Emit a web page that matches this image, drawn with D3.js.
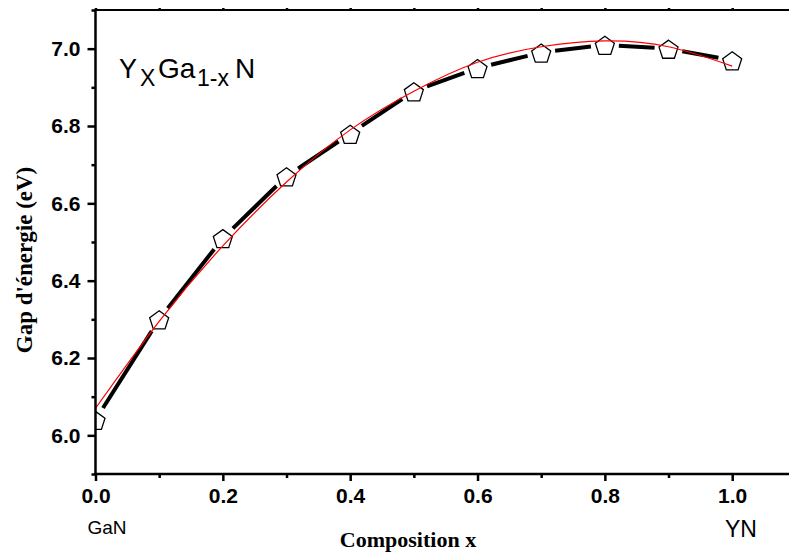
<!DOCTYPE html>
<html>
<head>
<meta charset="utf-8">
<script src="https://cdn.jsdelivr.net/npm/d3@7"></script>
<style>
  body { margin: 0; background: #fff; }
  svg { display: block; }
</style>
</head>
<body>
<div id="chart"></div>
<script>
var width = 789;
var height = 554;

// measured gap values (markers + black line)
var compX = [0.0, 0.1, 0.2, 0.3, 0.4, 0.5, 0.6, 0.7, 0.8, 0.9, 1.0];
var gapY = [6.04, 6.30, 6.51, 6.67, 6.78, 6.89, 6.95, 6.99, 7.01, 7.00, 6.97];

// red fitted curve
var fitX = [0.0, 0.1, 0.2, 0.3, 0.4, 0.5, 0.6, 0.7, 0.8, 0.9, 1.0];
var fitY = [6.07, 6.295, 6.49, 6.655, 6.79, 6.89, 6.965, 7.005, 7.02, 7.005, 6.955];

var xMajor = [0.0, 0.2, 0.4, 0.6, 0.8, 1.0];
var xMinor = [0.1, 0.3, 0.5, 0.7, 0.9];
var yMajor = [6.0, 6.2, 6.4, 6.6, 6.8, 7.0];
var yMinor = [5.9, 6.1, 6.3, 6.5, 6.7, 6.9, 7.1];

var margin = { left: 95.5, top: 10, bottom: 474 };

var x = d3.scaleLinear().domain([0, 1.09]).range([margin.left, margin.left + 1.09 * 636.7]);
var y = d3.scaleLinear().domain([5.9, 7.1]).range([margin.bottom, margin.top]);

var svg = d3.select("#chart").append("svg")
  .attr("width", width)
  .attr("height", height);

svg.append("defs").append("clipPath")
  .attr("id", "plot-clip")
  .append("rect")
  .attr("x", x(0))
  .attr("y", y(7.1))
  .attr("width", x(1.09) - x(0))
  .attr("height", y(5.9) - y(7.1));

var plot = svg.append("g").attr("clip-path", "url(#plot-clip)");

// black line, broken around each symbol
var gap = 14;
var segs = [];
for (let i = 0; i < compX.length - 1; i++) {
  let x1 = x(compX[i]), y1 = y(gapY[i]);
  let x2 = x(compX[i + 1]), y2 = y(gapY[i + 1]);
  let len = Math.hypot(x2 - x1, y2 - y1);
  let ux = (x2 - x1) / len, uy = (y2 - y1) / len;
  segs.push({ x1: x1 + ux * gap, y1: y1 + uy * gap, x2: x2 - ux * gap, y2: y2 - uy * gap });
}

plot.append("g")
  .selectAll("line")
  .data(segs)
  .enter()
  .append("line")
  .attr("x1", (d) => d.x1)
  .attr("y1", (d) => d.y1)
  .attr("x2", (d) => d.x2)
  .attr("y2", (d) => d.y2)
  .style("stroke", "#000")
  .style("stroke-width", 4);

// pentagon symbols
var R = 10;
var pentagon = d3.range(5).map((k) => {
  let a = -Math.PI / 2 + (k * 2 * Math.PI) / 5;
  return [R * Math.cos(a), R * Math.sin(a)];
});

plot.append("g")
  .selectAll("path")
  .data(compX)
  .enter()
  .append("path")
  .attr("transform", (d, i) => `translate(${x(d)},${y(gapY[i]) + 1.5})`)
  .attr("d", "M" + pentagon.join("L") + "Z")
  .style("fill", "#fff")
  .style("stroke", "#000")
  .style("stroke-width", 1.3);

// fit curve
var fitLine = d3.line()
  .x((d, i) => x(fitX[i]))
  .y((d) => y(d))
  .curve(d3.curveNatural);

plot.append("path")
  .datum(fitY)
  .attr("d", fitLine)
  .style("fill", "none")
  .style("stroke", "#ff0000")
  .style("stroke-width", 1.2);

// axes
var tickFont = "'Liberation Sans', Arial, sans-serif";

var bottomMinor = svg.append("g").attr("transform", `translate(0,${y(5.9)})`);
bottomMinor.call(d3.axisBottom(x).tickValues(xMinor).tickSize(4).tickFormat(""));
bottomMinor.select(".domain").remove();
var bottomMajor = svg.append("g").attr("transform", `translate(0,${y(5.9)})`);
bottomMajor.call(d3.axisBottom(x).tickValues(xMajor).tickSize(7).tickPadding(7).tickFormat(d3.format(".1f")));
bottomMajor.select(".domain").remove();

var leftMinor = svg.append("g").attr("transform", `translate(${x(0)},0)`);
leftMinor.call(d3.axisLeft(y).tickValues(yMinor).tickSize(4).tickFormat(""));
leftMinor.select(".domain").remove();
var leftMajor = svg.append("g").attr("transform", `translate(${x(0)},0)`);
leftMajor.call(d3.axisLeft(y).tickValues(yMajor).tickSize(8).tickPadding(7).tickFormat(d3.format(".1f")));
leftMajor.select(".domain").remove();

var topAxis = svg.append("g").attr("transform", `translate(0,${y(7.1)})`);
topAxis.call(d3.axisTop(x).tickValues(xMajor.concat(xMinor)).tickSize(2).tickFormat(""));
topAxis.select(".domain").remove();

svg.selectAll(".tick line").style("stroke", "#000").style("stroke-width", 2.5);
svg.selectAll(".tick text")
  .style("font-family", tickFont)
  .style("font-weight", "bold")
  .style("font-size", "21px")
  .style("fill", "#000");

// frame lines
svg.append("line")
  .attr("x1", x(0)).attr("x2", x(0))
  .attr("y1", y(7.1)).attr("y2", y(5.9) + 1.2)
  .style("stroke", "#000").style("stroke-width", 2.5);
svg.append("line")
  .attr("x1", x(0) - 1.2).attr("x2", width)
  .attr("y1", y(5.9)).attr("y2", y(5.9))
  .style("stroke", "#000").style("stroke-width", 2.5);
svg.append("line")
  .attr("x1", x(0) - 1.2).attr("x2", width)
  .attr("y1", y(7.1)).attr("y2", y(7.1))
  .style("stroke", "#000").style("stroke-width", 2.2);

// axis titles
svg.append("text")
  .attr("x", 408)
  .attr("y", 547)
  .attr("text-anchor", "middle")
  .style("font-family", "'Liberation Serif', 'Times New Roman', serif")
  .style("font-weight", "bold")
  .style("font-size", "22px")
  .text("Composition x");

svg.append("text")
  .attr("transform", "translate(32,260) rotate(-90)")
  .attr("text-anchor", "middle")
  .style("font-family", "'Liberation Serif', 'Times New Roman', serif")
  .style("font-weight", "bold")
  .style("font-size", "23px")
  .text("Gap d'énergie (eV)");

svg.append("text")
  .attr("x", 107)
  .attr("y", 534)
  .attr("text-anchor", "middle")
  .style("font-family", tickFont)
  .style("font-size", "19px")
  .text("GaN");

svg.append("text")
  .attr("x", 741)
  .attr("y", 537)
  .attr("text-anchor", "middle")
  .style("font-family", tickFont)
  .style("font-size", "23px")
  .text("YN");

// compound label
var label = svg.append("text")
  .attr("y", 78)
  .style("font-family", tickFont)
  .style("fill", "#000");
label.append("tspan").attr("x", 119).style("font-size", "27px").text("Y");
label.append("tspan").attr("x", 140).attr("dy", 8).style("font-size", "23px").text("X");
label.append("tspan").attr("x", 158).attr("dy", -8).style("font-size", "28px").text("Ga");
label.append("tspan").attr("x", 197).attr("dy", 8).style("font-size", "23px").text("1-x");
label.append("tspan").attr("x", 235).attr("dy", -8).style("font-size", "28px").text("N");
</script>
</body>
</html>
